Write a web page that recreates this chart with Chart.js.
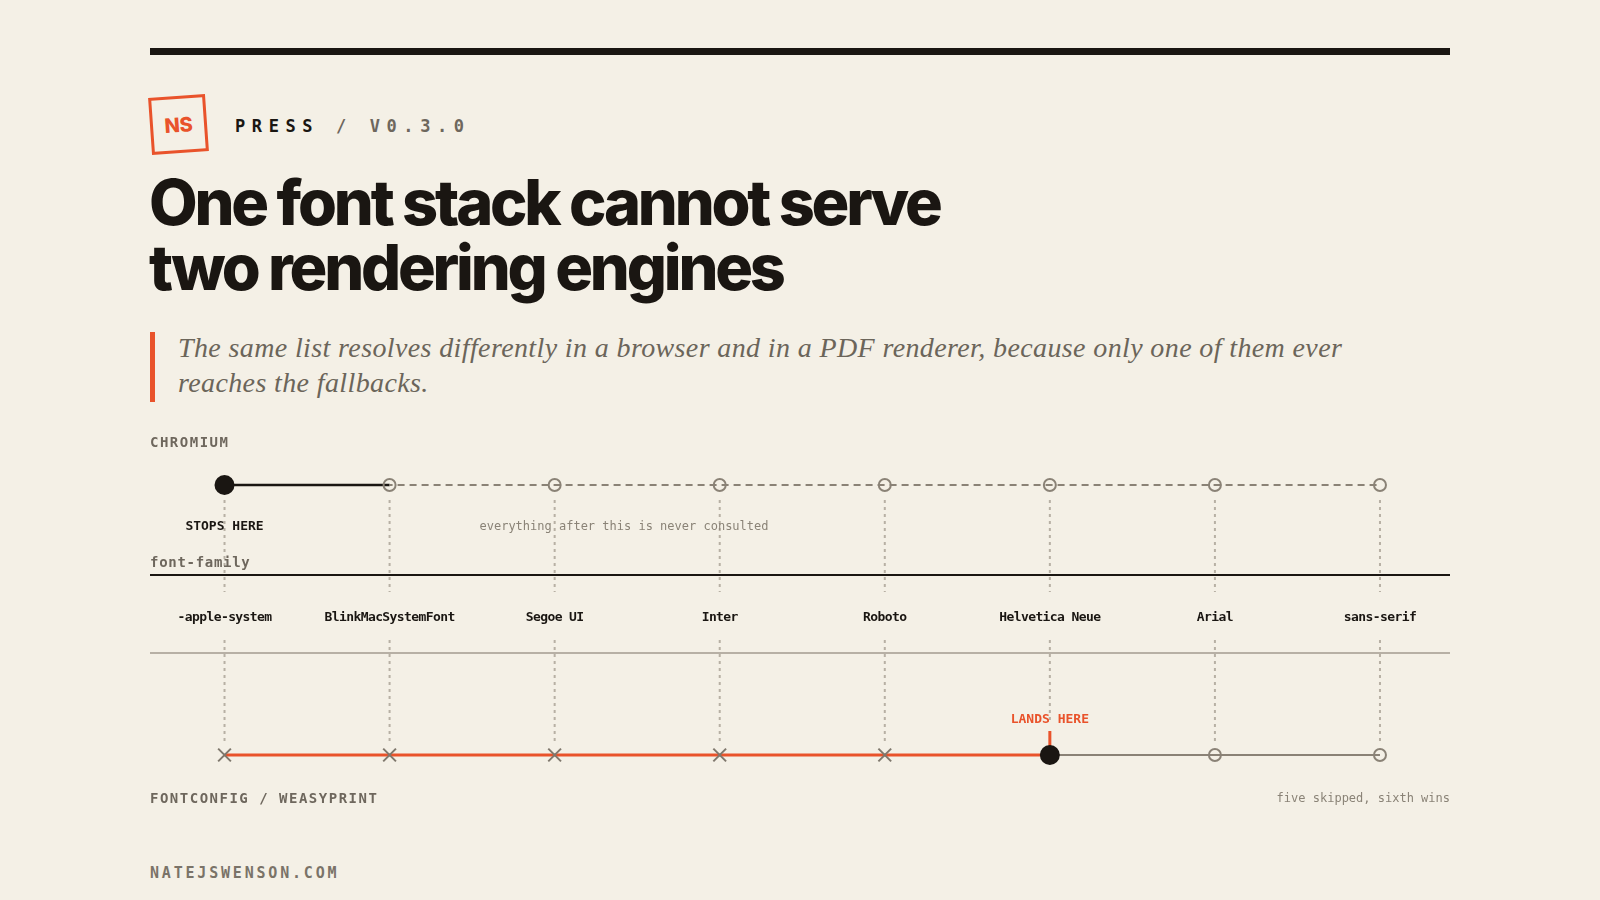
<!DOCTYPE html>
<html>
<head>
<meta charset="utf-8">
<script src="https://cdn.jsdelivr.net/npm/chart.js@4.4.1/dist/chart.umd.min.js"></script>
<style>
    html, body { margin: 0; padding: 0; }
    body {
        width: 1600px; height: 900px; overflow: hidden; position: relative;
        background: #f4f0e6; color: #1a1612;
    }
    .rule { position: absolute; left: 150px; top: 48px; width: 1300px; height: 7px; background: #1a1612; }
    .logo {
        position: absolute; left: 150px; top: 96px; width: 51px; height: 51px;
        border: 3px solid #e9532b; transform: rotate(-4deg);
        display: flex; align-items: center; justify-content: center;
        font: 800 20px "Inter", sans-serif; color: #e9532b; letter-spacing: -0.01em;
    }
    .kicker {
        position: absolute; left: 235px; top: 116px; line-height: 20px; white-space: nowrap;
        font: 700 17px "DejaVu Sans Mono", monospace; letter-spacing: 6.6px; color: #1a1612;
    }
    .kicker span { color: #6e675d; }
    h1 {
        position: absolute; left: 149px; top: 170px; margin: 0;
        font: 800 63px/65px "Inter", sans-serif; letter-spacing: -3.2px; color: #1a1612;
        white-space: nowrap;
    }
    .quote-bar { position: absolute; left: 150px; top: 332px; width: 5px; height: 70px; background: #e9532b; }
    .quote {
        position: absolute; left: 178px; top: 330px; margin: 0; white-space: nowrap;
        font: italic 400 28px/35px "Liberation Serif", serif; letter-spacing: 0.38px; color: #6b655a;
    }
    .footer {
        position: absolute; left: 150px; top: 864px; line-height: 18px;
        font: 700 15px "DejaVu Sans Mono", monospace; letter-spacing: 2.8px; color: #7a7368;
    }
    .chart-wrap { position: absolute; left: 150px; top: 420px; width: 1300px; height: 410px; }
</style>
</head>
<body>
<div class="rule"></div>
<div class="logo">NS</div>
<div class="kicker">PRESS <span>/ V0.3.0</span></div>
<h1>One font stack cannot serve<br>two rendering engines</h1>
<div class="quote-bar"></div>
<p class="quote">The same list resolves differently in a browser and in a PDF renderer, because only one of them ever<br>reaches the fallbacks.</p>
<div class="chart-wrap"><canvas id="stackChart"></canvas></div>
<div class="footer">NATEJSWENSON.COM</div>

<script>
// the font-family list, in order
const fontStack = ['-apple-system', 'BlinkMacSystemFont', 'Segoe UI', 'Inter', 'Roboto', 'Helvetica Neue', 'Arial', 'sans-serif'];
// what each engine does with each entry
const chromiumStatus = ['stop', 'never', 'never', 'never', 'never', 'never', 'never', 'never'];
const fontconfigStatus = ['skip', 'skip', 'skip', 'skip', 'skip', 'land', 'never', 'never'];
// track rows
const trackNames = ['CHROMIUM', 'FONTCONFIG / WEASYPRINT'];
const trackRows = [1, 0];
const notes = {
    stop: 'STOPS HERE',
    never: 'everything after this is never consulted',
    land: 'LANDS HERE',
    summary: 'five skipped, sixth wins',
    axis: 'font-family'
};

const DARK = '#1a1612';
const ORANGE = '#e9532b';
const GRAY = '#8a8276';
const MONO = '"DejaVu Sans Mono", monospace';

const idx = (list, s) => list.map((v, i) => v === s ? i : -1).filter(i => i >= 0);

const chromiumStop = idx(chromiumStatus, 'stop')[0];
const chromiumNever = idx(chromiumStatus, 'never');
const fcSkipped = idx(fontconfigStatus, 'skip');
const fcLand = idx(fontconfigStatus, 'land')[0];
const fcNever = idx(fontconfigStatus, 'never');

const pts = (list, row) => list.map(i => ({ x: i, y: row }));

const guides = {
    id: 'guides',
    beforeDatasetsDraw(chart) {
        const { ctx, chartArea, scales: { x, y } } = chart;
        const topY = y.getPixelForValue(trackRows[0]);
        const botY = y.getPixelForValue(trackRows[1]);
        const axisY = topY + 90;
        const labelY = topY + 133;
        const grayY = topY + 168;

        ctx.save();
        // dotted drop lines
        ctx.strokeStyle = '#b7b0a4';
        ctx.lineWidth = 2;
        ctx.setLineDash([3, 4]);
        fontStack.forEach((f, i) => {
            const px = x.getPixelForValue(i);
            ctx.beginPath();
            ctx.moveTo(px, topY + 15); ctx.lineTo(px, topY + 107);
            ctx.moveTo(px, topY + 155); ctx.lineTo(px, i === fcLand ? botY - 32 : botY - 13);
            ctx.stroke();
        });
        ctx.setLineDash([]);

        // font-family rule + lower rule
        ctx.strokeStyle = DARK; ctx.lineWidth = 2;
        ctx.beginPath(); ctx.moveTo(chartArea.left, axisY); ctx.lineTo(chartArea.right, axisY); ctx.stroke();
        ctx.strokeStyle = '#a39b8f'; ctx.lineWidth = 1.5;
        ctx.beginPath(); ctx.moveTo(chartArea.left, grayY); ctx.lineTo(chartArea.right, grayY); ctx.stroke();

        // orange tick above the winner
        const lx = x.getPixelForValue(fcLand);
        ctx.strokeStyle = ORANGE; ctx.lineWidth = 3;
        ctx.beginPath(); ctx.moveTo(lx, botY - 24); ctx.lineTo(lx, botY - 9); ctx.stroke();

        ctx.textBaseline = 'middle';
        // stack labels
        ctx.fillStyle = DARK; ctx.textAlign = 'center';
        ctx.font = 'bold 13px ' + MONO; ctx.letterSpacing = '-0.6px';
        fontStack.forEach((f, i) => ctx.fillText(f, x.getPixelForValue(i), labelY));

        // notes
        ctx.letterSpacing = '0px';
        ctx.font = 'bold 13px ' + MONO;
        ctx.fillText(notes.stop, x.getPixelForValue(chromiumStop), topY + 42);
        ctx.fillStyle = ORANGE;
        ctx.fillText(notes.land, lx, botY - 35);
        ctx.fillStyle = '#8a8377'; ctx.font = '12px ' + MONO;
        ctx.fillText(notes.never, x.getPixelForValue(chromiumNever[0] + 1.42), topY + 42);
        ctx.textAlign = 'right';
        ctx.fillText(notes.summary, chartArea.right, botY + 44);

        // row names
        ctx.textAlign = 'left'; ctx.fillStyle = '#6e675d';
        ctx.font = 'bold 14px ' + MONO; ctx.letterSpacing = '1.5px';
        ctx.fillText(trackNames[0], chartArea.left, topY - 42);
        ctx.fillText(trackNames[1], chartArea.left, botY + 44);
        ctx.letterSpacing = '0.7px';
        ctx.fillText(notes.axis, chartArea.left, axisY - 12);
        ctx.restore();
    }
};

new Chart(document.getElementById('stackChart'), {
    type: 'line',
    data: {
        datasets: [
            { // chromium: picked first entry
                data: pts([chromiumStop], trackRows[0]), showLine: false,
                pointRadius: 10, pointBackgroundColor: DARK, pointBorderWidth: 0, order: 0
            },
            { // chromium: line to the next entry
                data: pts([chromiumStop, chromiumNever[0]], trackRows[0]),
                borderColor: DARK, borderWidth: 2.5, pointRadius: 0, order: 3
            },
            { // chromium: never consulted
                data: pts(chromiumNever, trackRows[0]),
                borderColor: GRAY, borderWidth: 2, borderDash: [7, 5], borderDashOffset: -8,
                pointRadius: 6, pointBorderWidth: 2, pointBorderColor: GRAY,
                pointBackgroundColor: 'rgba(0,0,0,0)', order: 2
            },
            { // fontconfig: winner
                data: pts([fcLand], trackRows[1]), showLine: false,
                pointRadius: 10, pointBackgroundColor: DARK, pointBorderWidth: 0, order: 0
            },
            { // fontconfig: skipped entries
                data: pts(fcSkipped, trackRows[1]), showLine: false,
                pointStyle: 'crossRot', pointRadius: 9, pointBorderWidth: 2,
                pointBorderColor: '#7f786d', order: 1
            },
            { // fontconfig: walk through the skipped ones
                data: pts([...fcSkipped, fcLand], trackRows[1]),
                borderColor: ORANGE, borderWidth: 3, pointRadius: 0, order: 4
            },
            { // fontconfig: after the winner
                data: pts([fcLand, ...fcNever], trackRows[1]),
                borderColor: GRAY, borderWidth: 2,
                pointRadius: ctx => ctx.raw && ctx.raw.x === fcLand ? 0 : 6,
                pointBorderWidth: 2, pointBorderColor: GRAY,
                pointBackgroundColor: 'rgba(0,0,0,0)', order: 3
            }
        ]
    },
    options: {
        responsive: true,
        maintainAspectRatio: false,
        animation: false,
        events: [],
        layout: { autoPadding: false, padding: { top: 65, bottom: 75, left: 0, right: 0 } },
        plugins: { legend: { display: false }, tooltip: { enabled: false } },
        elements: { line: { tension: 0 } },
        datasets: { line: { clip: false } },
        scales: {
            x: { type: 'linear', min: -0.4515, max: 7.4242, display: false },
            y: { type: 'linear', min: 0, max: 1, display: false }
        }
    },
    plugins: [guides]
});
</script>
</body>
</html>
